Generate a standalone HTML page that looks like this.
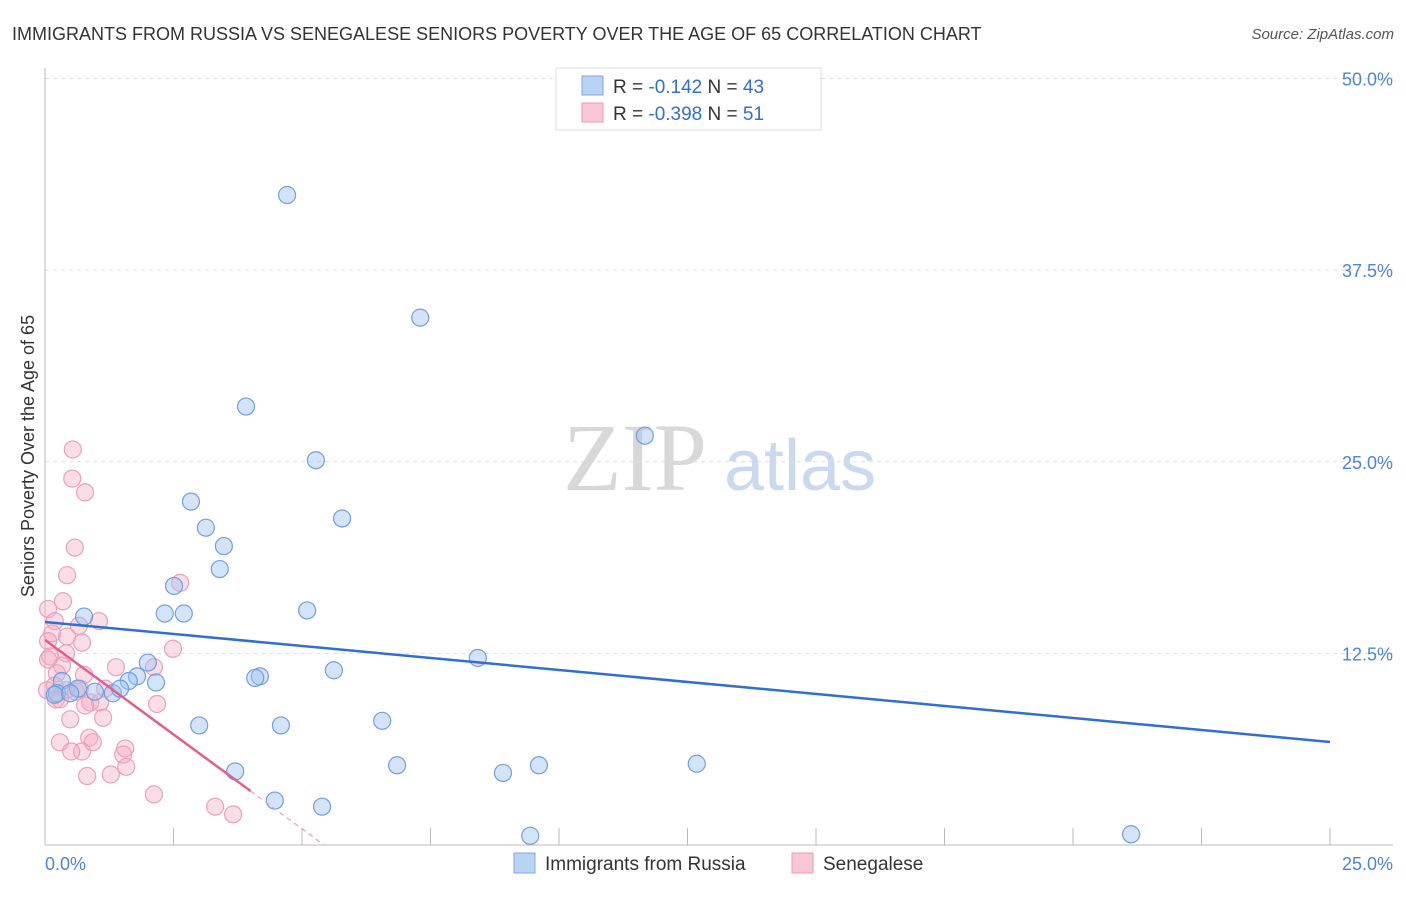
<!DOCTYPE html>
<html><head><meta charset="utf-8"><style>
body{margin:0;background:#fff;font-family:"Liberation Sans",sans-serif}
</style></head><body>
<svg id="c" width="1406" height="892" xmlns="http://www.w3.org/2000/svg" font-family="Liberation Sans, sans-serif">
<text x="12" y="40" font-size="18" fill="#333">IMMIGRANTS FROM RUSSIA VS SENEGALESE SENIORS POVERTY OVER THE AGE OF 65 CORRELATION CHART</text>
<text x="1394" y="39" font-size="15" fill="#555" text-anchor="end" font-style="italic">Source: ZipAtlas.com</text>
<text transform="translate(34,456) rotate(-90)" font-size="18" fill="#333" text-anchor="middle">Seniors Poverty Over the Age of 65</text>
<g><text x="635" y="490" font-size="96" fill="#d8d8d8" font-family="Liberation Serif, serif" text-anchor="middle">ZIP</text><text x="800" y="490" font-size="72" fill="#c9d9ef" text-anchor="middle">atlas</text></g>
<g id="grid"></g><g id="axes"></g><g id="marks"></g>
<g>
<rect x="556" y="68" width="265" height="62" fill="#fff" stroke="#ddd"/>
<rect x="582" y="76" width="21" height="19" fill="#b8d3f3" stroke="#7ea9e1"/>
<rect x="582" y="103" width="21" height="19" fill="#f9c6d6" stroke="#ec9ab5"/>
<text x="613" y="93" font-size="19" fill="#333">R = <tspan fill="#2f6fd1">-0.142</tspan>   N = <tspan fill="#2f6fd1">43</tspan></text>
<text x="613" y="120" font-size="19" fill="#333">R = <tspan fill="#2f6fd1">-0.398</tspan>   N = <tspan fill="#2f6fd1"> 51</tspan></text>
</g>
<g>
<rect x="514" y="853" width="21" height="20" fill="#b8d3f3" stroke="#7ea9e1"/>
<text x="545" y="870" font-size="19" fill="#333">Immigrants from Russia</text>
<rect x="792" y="853" width="21" height="20" fill="#f9c6d6" stroke="#ec9ab5"/>
<text x="823" y="870" font-size="19" fill="#333">Senegalese</text>
</g>
</svg>
<script>
const blueX=[4.71,7.30,3.91,11.67,5.27,2.84,5.78,3.13,3.48,3.40,2.51,2.33,2.70,5.10,0.76,8.42,2.00,5.62,4.18,4.09,1.79,1.63,2.16,0.33,0.97,1.32,1.46,0.64,0.23,0.19,0.49,3.00,4.59,6.56,3.70,6.85,8.91,9.61,12.68,4.47,5.39,9.44,21.13];
const blueY=[42.4,34.4,28.6,26.7,25.1,22.4,21.3,20.7,19.5,18.0,16.9,15.1,15.1,15.3,14.9,12.2,11.9,11.4,11.0,10.9,11.0,10.7,10.6,10.7,10.0,9.9,10.2,10.2,9.9,9.8,9.9,7.8,7.8,8.1,4.8,5.2,4.7,5.2,5.3,2.9,2.5,0.6,0.7];
const pinkX=[0.54,0.53,0.78,0.58,0.43,0.35,0.06,2.63,0.19,1.05,0.66,0.14,0.43,0.72,0.06,2.49,0.41,0.10,0.33,1.38,2.12,0.76,0.23,0.19,0.41,0.60,1.17,0.04,0.88,1.07,2.18,0.78,0.49,1.13,0.29,0.86,0.93,0.72,0.51,1.56,1.52,1.58,0.82,1.28,2.12,3.31,3.66,0.21,0.06,0.68,0.29];
const pinkY=[25.8,23.9,23.0,19.4,17.6,15.9,15.4,17.1,14.6,14.6,14.3,13.8,13.6,13.2,13.3,12.8,12.5,12.3,11.7,11.6,11.6,11.1,11.2,10.4,10.1,10.0,10.2,10.1,9.3,9.3,9.2,9.1,8.2,8.3,6.7,7.0,6.7,6.1,6.1,6.3,5.9,5.1,4.5,4.6,3.3,2.5,2.0,9.5,12.1,10.2,9.5];
const blueTrend=[14.55,6.72]; // y at x=0 and x=25
const pinkTrend=[13.37,3.52,4.0]; // y at 0, y at x_end, x_end
const yTicks=[12.5,25.0,37.5,50.0];
const xTickVals=[0,2.5,5,7.5,10,12.5,15,17.5,20,22.5,25];
const NS="http://www.w3.org/2000/svg";
const sx=v=>45+v*51.4, sy=v=>845-v*15.33;
function mk(t,a,p){const e=document.createElementNS(NS,t);for(const k in a)e.setAttribute(k,a[k]);p.appendChild(e);return e;}
const grid=document.getElementById('grid'),axes=document.getElementById('axes'),marks=document.getElementById('marks');
yTicks.forEach(v=>{
 const l=mk('line',{x1:45,x2:1393,y1:sy(v),y2:sy(v),stroke:'#ddd','stroke-dasharray':'4,4'},grid);
 
 
 const t=mk('text',{x:1393,y:sy(v)+7,'font-size':18,fill:'#4a86d8','text-anchor':'end'},axes);t.textContent=v.toFixed(1)+'%';
 
 
});
mk('line',{x1:45,x2:45,y1:68,y2:845,stroke:'#bbb'},axes);
mk('line',{x1:45,x2:1393,y1:845,y2:845,stroke:'#bbb'},axes);
xTickVals.forEach(v=>{const l=mk('line',{x1:sx(v),x2:sx(v),y1:828,y2:845,stroke:'#bbb'},axes);
 
 });
[[0,'0.0%','start',45],[25,'25.0%','end',1393]].forEach(d=>{const t=mk('text',{x:d[3],y:870,'font-size':18,fill:'#4a86d8','text-anchor':d[2]},axes);t.textContent=d[1];
 
 });
pinkX.forEach((x,i)=>{const c=mk('circle',{cx:sx(x),cy:sy(pinkY[i]),r:8.5,fill:'rgba(245,170,195,0.4)',stroke:'#eba0bb','stroke-width':1.2},marks);
 
 });
blueX.forEach((x,i)=>{const c=mk('circle',{cx:sx(x),cy:sy(blueY[i]),r:8.5,fill:'rgba(160,195,240,0.45)',stroke:'#6f9fe0','stroke-width':1.2},marks);
 
 });
const bl=mk('line',{x1:sx(0),y1:sy(blueTrend[0]),x2:sx(25),y2:sy(blueTrend[1]),stroke:'#2f6fd1','stroke-width':2.5},marks);


const slope=(pinkTrend[1]-pinkTrend[0])/pinkTrend[2];
const xz=-pinkTrend[0]/slope;
const pd=mk('line',{x1:sx(pinkTrend[2]),y1:sy(pinkTrend[1]),x2:sx(xz),y2:sy(0),stroke:'#e8a0b8','stroke-width':1.2,'stroke-dasharray':'5,4'},marks);


const pl=mk('line',{x1:sx(0),y1:sy(pinkTrend[0]),x2:sx(pinkTrend[2]),y2:sy(pinkTrend[1]),stroke:'#e45e8d','stroke-width':2.5},marks);


</script>
</body></html>
